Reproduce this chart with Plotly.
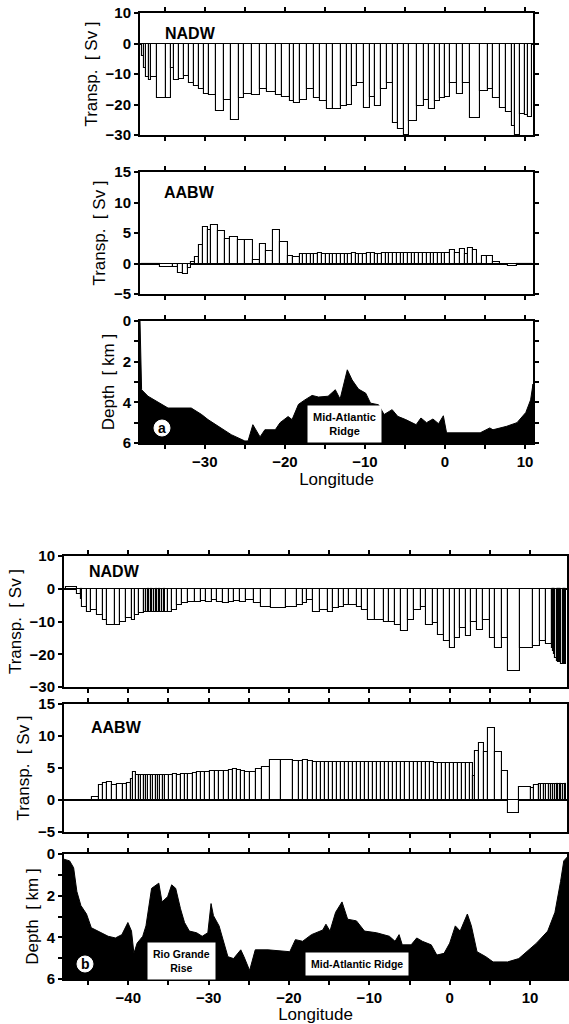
import numpy as np
import plotly.graph_objects as go

W, H = 569, 1024

# ---------------- Panel (a) data ----------------
NADW_A_EDGES = [-37.9, -37.6, -37.3, -37.0, -36.75, -35.95, -34.85, -34.25, -33.85, -33.25,
                -32.55, -31.95, -31.35, -30.75, -30.05, -29.45, -28.65, -27.65, -26.75, -25.75,
                -25.15, -24.05, -23.05, -22.25, -21.15, -20.35, -19.35, -18.85, -18.05, -17.25,
                -16.35, -15.55, -14.75, -13.95, -13.05, -12.25, -11.65, -10.95, -10.15, -9.35,
                -8.75, -8.05, -7.25, -6.45, -5.85, -5.15, -4.55, -3.55, -2.65, -2.05,
                -1.25, -0.65, 0.05, 0.65, 1.45, 2.25, 3.15, 4.35, 5.35, 6.05,
                6.85, 7.65, 8.35, 8.75, 9.35, 9.95, 10.35, 10.9]
NADW_A_VALUES = [-4, -8, -11, -12, -11, -18, -18, -8, -12, -11.5,
                 -10.5, -13, -14, -15, -16.5, -17, -22, -18.5, -25, -18,
                 -16.5, -17, -15, -16, -17, -17.5, -19, -19.5, -18.5, -15,
                 -18, -19, -21.5, -21.5, -20.5, -20, -14, -13, -21, -17.5,
                 -20.5, -15, -13, -26, -28, -30, -25.5, -20.5, -18.5, -21.5,
                 -19, -18, -17.5, -13, -16.5, -13, -24.5, -15.5, -15, -18,
                 -21, -22.5, -27, -30, -23, -23.5, -24]

AABW_A_EDGES = [-37.9, -35.6, -34.0, -33.3, -32.7, -32.1, -31.7, -31.25, -30.7, -30.2,
                -29.6, -29.2, -28.3, -27.5, -26.9, -25.8, -25.0, -24.0, -23.1, -22.3,
                -21.5, -20.6, -19.6, -19.0, -18.1,
                -17.7, -17.2, -16.75, -16.3, -15.8, -15.35, -14.9, -14.4, -13.95, -13.5,
                -13.0, -12.55, -12.1, -11.6, -11.15, -10.7, -10.2, -9.75, -9.3, -8.8,
                -8.35, -7.9, -7.4, -6.95, -6.5, -6.0, -5.55, -5.1, -4.6, -4.15,
                -3.7, -3.2, -2.75, -2.3, -1.8, -1.35, -0.9, -0.4, 0.05,
                0.6, 1.25, 1.9, 2.5, 2.9, 3.5, 4.0, 4.6, 5.3, 6.0, 6.9, 7.9, 9.0, 10.9]
AABW_A_VALUES = [-0.2, -0.5, -0.5, -1.5, -1.8, -0.8, 0.2, 1.0, 3.0, 6.0,
                 5.5, 6.3, 5.3, 4.0, 4.3, 3.8, 3.8, 0.5, 3.2, 2.0,
                 5.5, 3.5, 1.2, 1.0, 1.5,
                 1.6, 1.6, 1.6, 1.6, 1.7, 1.6, 1.5, 1.6, 1.6, 1.6,
                 1.6, 1.6, 1.6, 1.7, 1.6, 1.6, 1.6, 1.7, 1.7, 1.6,
                 1.6, 1.7, 1.7, 1.7, 1.7, 1.7, 1.8, 1.7, 1.7, 1.8,
                 1.8, 1.8, 1.8, 1.8, 1.8, 1.8, 1.8, 1.8, 1.8,
                 2.2, 1.8, 2.4, 1.5, 2.6, 2.2, -0.2, 1.2, 1.2, 0.3, 0.0, -0.4, -0.2]

DEPTH_A_LON = [-38.1, -37.9, -37.1, -35.8, -34.6, -31.7, -30.4, -29.6, -28.3, -26.7,
               -25.0, -24.6, -24.0, -23.1, -22.5, -21.2, -20.6, -19.6, -19.1, -18.3,
               -17.5, -16.6, -15.8, -14.6, -13.7, -13.1, -12.2, -11.6, -10.8, -9.9,
               -9.3, -8.3, -7.6, -6.6, -5.9, -4.9, -3.6, -3.0, -2.3, -1.5,
               -0.8, -0.2, 0.2, 4.4, 5.6, 6.0, 7.7, 9.0, 10.1, 10.7, 11.0]
DEPTH_A_KM = [0.0, 3.38, 3.7, 4.0, 4.28, 4.28, 4.6, 4.85, 5.18, 5.59,
              5.9, 5.9, 5.1, 5.7, 5.35, 5.35, 5.0, 4.7, 4.85, 4.1,
              3.88, 3.66, 3.74, 3.7, 3.38, 3.84, 2.4, 2.9, 3.35, 3.55,
              4.04, 4.12, 4.6, 4.36, 4.69, 4.85, 5.1, 4.77, 5.0, 4.82,
              5.05, 4.66, 5.5, 5.5, 5.26, 5.35, 5.18, 5.0, 4.5, 3.88, 3.1]

# ---------------- Panel (b) data ----------------
NADW_B_EDGES = [-47.7, -46.4, -45.9, -45.7, -45.2, -44.6, -43.9, -43.2, -42.6, -41.6,
                -41.0, -40.3, -39.6, -39.2, -38.7,
                -38.0, -37.8, -37.6, -37.4, -37.2, -37.0, -36.8, -36.6, -36.4, -36.2,
                -36.0, -35.8, -35.6, -35.4,
                -35.1, -34.6, -33.9, -33.3, -32.6,
                -31.7, -31.0, -30.3, -29.6, -28.9, -28.2, -27.5, -26.8, -26.1, -25.4,
                -24.4, -23.5, -22.2, -20.4, -19.0, -18.3, -17.7, -17.0, -16.1, -15.2,
                -14.5, -13.8, -13.1, -12.5, -11.5, -10.9, -10.2, -9.3, -8.2, -7.5,
                -6.8, -6.1, -5.2, -4.5, -3.6, -3.0, -2.1, -1.4, -0.7, 0.0,
                0.7, 1.3, 2.0, 2.7, 3.4, 4.1, 5.0, 5.6, 6.5, 7.2,
                8.8, 10.4, 11.3, 12.0,
                12.7, 12.85, 13.0, 13.15, 13.3, 13.45, 13.6, 13.75, 13.9, 14.05,
                14.2, 14.35, 14.5]
NADW_B_VALUES = [0.4, -1.6, -3, -5.5, -7, -6.5, -8, -9.5, -11, -11,
                 -10, -9, -9.5, -8, -7.5,
                 -7.2, -7, -7, -7, -7, -7, -7, -7, -7, -7,
                 -7, -7, -7, -7,
                 -7, -6.5, -5, -4.5, -4,
                 -4, -3.8, -4, -3.5, -4, -4.2, -4, -3.8, -4, -3.5,
                 -4.5, -5.5, -6, -5.5, -5, -4.5, -3.5, -7, -6.5, -7,
                 -6, -5.5, -5, -5, -5.5, -6.5, -9.5, -9.5, -10, -10,
                 -11, -13, -9.5, -6.5, -5.5, -11, -10.5, -14, -16, -18,
                 -15, -12, -14.5, -10, -12.5, -9.5, -15, -18, -15, -25,
                 -18, -17.5, -16, -17,
                 -18, -19, -20, -21, -22, -22.5, -22.5, -22.5, -23, -23,
                 -23, -23]

AABW_B_EDGES = [-44.5, -43.7, -43.2, -42.6, -42.0, -41.4, -40.7, -40.1, -39.7, -39.4,
                -39.0, -38.7, -38.4, -38.1, -37.8, -37.5, -37.2, -36.9, -36.6, -36.3,
                -36.0, -35.7, -35.4,
                -34.9, -34.4, -33.9, -33.4, -33.0,
                -32.6, -32.0,
                -31.4, -30.9, -30.4, -29.8, -29.2,
                -28.7, -28.1, -27.5,
                -27.0, -26.5,
                -26.0, -25.5,
                -24.9, -24.1, -23.3, -22.4, -21.0,
                -19.5, -18.8, -18.2, -17.6,
                -17.0, -16.5, -16.0, -15.5, -15.0, -14.5, -14.0, -13.5, -13.0, -12.5,
                -12.0, -11.5, -11.0, -10.5, -10.0, -9.5, -9.0, -8.5, -8.0, -7.5,
                -7.0, -6.5, -6.0, -5.5, -5.0, -4.5, -4.0, -3.5, -3.0, -2.5,
                -2.0, -1.5, -1.0, -0.5, 0.0, 0.5, 1.0, 1.5, 2.0, 2.5,
                2.9, 3.2, 3.7, 4.3, 4.8, 5.6, 6.5, 7.3, 8.6, 10.1, 10.5,
                11.1, 11.4, 11.7, 12.0, 12.3, 12.6, 12.9, 13.1, 13.3, 13.5,
                13.7, 13.9, 14.1, 14.3, 14.5]
AABW_B_VALUES = [0.5, 2.3, 2.6, 2.8, 2.4, 2.5, 2.5, 2.6, 3.3, 4.3,
                 3.9, 3.9, 3.9, 3.9, 3.9, 3.9, 3.9, 3.9, 3.9, 3.9,
                 3.9, 3.9, 3.9,
                 3.9, 4.0, 3.9, 4.0, 4.1,
                 4.0, 4.2,
                 4.4, 4.4, 4.3, 4.5, 4.5,
                 4.6, 4.6, 4.7,
                 4.8, 4.7,
                 4.5, 4.4,
                 4.3, 4.9, 5.2, 6.3, 6.2,
                 6.1, 6.1, 6.2, 6.1,
                 6.0, 5.9, 5.9, 5.9, 5.9, 5.9, 5.9, 5.9, 5.9, 5.9,
                 5.9, 5.9, 5.9, 5.9, 5.9, 5.9, 5.9, 5.9, 5.9, 5.9,
                 5.9, 5.9, 5.9, 5.9, 5.9, 5.9, 5.9, 5.9, 5.9, 5.9,
                 5.8, 5.8, 5.8, 5.8, 5.8, 5.8, 5.8, 5.8, 5.8, 5.8,
                 3.7, 7.6, 8.9, 7.5, 11.2, 7.5, 4.5, -2.0, 2.0, 1.8, 2.4,
                 2.5, 2.5, 2.5, 2.5, 2.5, 2.5, 2.5, 2.5, 2.5, 2.5,
                 2.5, 2.5, 2.5, 2.5]

DEPTH_B_LON = [-48.0, -47.3, -46.8, -46.4, -45.9, -45.2, -44.6, -43.4, -42.5, -41.6,
               -40.8, -40.05, -39.6, -39.3, -38.9, -38.2, -37.8, -37.1, -36.2, -35.8,
               -35.1, -34.6, -34.1, -33.5, -33.0, -32.4, -31.5, -30.8, -30.1, -29.7,
               -29.4, -28.7, -28.1, -27.6, -26.9, -26.0, -25.6, -24.9, -24.2, -22.6,
               -19.9, -19.2, -18.3, -17.2, -15.8, -15.4, -14.9, -14.2, -13.4, -12.7,
               -11.6, -10.6, -9.1, -7.5, -6.8, -6.3, -5.9, -4.8, -4.1, -3.4,
               -2.3, -1.6, -0.7, 0.0, 0.7, 1.3, 2.2, 2.7, 3.4, 4.5,
               5.4, 7.2, 8.6, 10.8, 12.2, 13.1, 13.8, 14.2, 14.6]
DEPTH_B_KM = [0.25, 0.33, 0.66, 1.8, 2.47, 2.88, 3.54, 3.78, 3.95, 4.03,
              3.87, 3.29, 3.7, 4.77, 4.28, 3.95, 3.45, 1.65, 1.4, 2.3,
              2.05, 1.48, 1.65, 2.63, 3.29, 3.7, 3.78, 3.95, 3.78, 2.38,
              2.96, 3.45, 4.28, 4.93, 5.02, 4.6, 4.93, 5.59, 4.6, 4.6,
              4.69, 4.11, 4.19, 3.87, 3.65, 3.37, 3.7, 2.8, 2.3, 3.13,
              3.21, 3.7, 3.78, 3.95, 4.19, 3.87, 4.36, 4.36, 4.03, 4.19,
              4.36, 4.85, 4.77, 4.28, 3.45, 3.7, 2.88, 3.45, 4.69, 4.93,
              5.18, 5.18, 5.02, 4.28, 3.7, 2.8, 1.32, 0.33, 0.16]

X_RANGE_A = [-38.1, 11.0]
X_RANGE_B = [-48.0, 14.6]
DEPTH_MAX = 6

FONT = "Arial, Liberation Sans, sans-serif"

fig = go.Figure()


def add_bars(edges, values, n_axis):
    e = np.asarray(edges, float)
    n = min(len(values), len(e) - 1)
    left, right = e[:n], e[1:n + 1]
    fig.add_trace(go.Bar(
        x=(left + right) / 2, y=np.asarray(values[:n], float), width=right - left,
        xaxis="x" + n_axis, yaxis="y" + n_axis,
        marker=dict(color="white", line=dict(color="black", width=1.1)),
        showlegend=False, hoverinfo="skip"))


def add_depth(lon, km, n_axis):
    n = min(len(lon), len(km))
    xs = list(lon[:n]) + [lon[n - 1], lon[0]]
    ys = list(km[:n]) + [DEPTH_MAX, DEPTH_MAX]
    fig.add_trace(go.Scatter(
        x=xs, y=ys, mode="lines", fill="toself", fillcolor="black",
        line=dict(color="black", width=1),
        xaxis="x" + n_axis, yaxis="y" + n_axis, showlegend=False, hoverinfo="skip"))


add_bars(NADW_A_EDGES, NADW_A_VALUES, "")
add_bars(AABW_A_EDGES, AABW_A_VALUES, "2")
add_depth(DEPTH_A_LON, DEPTH_A_KM, "3")
add_bars(NADW_B_EDGES, NADW_B_VALUES, "4")
add_bars(AABW_B_EDGES, AABW_B_VALUES, "5")
add_depth(DEPTH_B_LON, DEPTH_B_KM, "6")


def xd(l, r):
    return [l / W, r / W]


def yd(t, b):
    return [1 - b / H, 1 - t / H]


XA = xd(140, 533)
XB = xd(64, 567)
YDOM = [yd(13, 135), yd(172, 294), yd(321, 443), yd(556, 687), yd(704, 832), yd(854, 979)]

tick_font = dict(family=FONT, size=15, color="black", weight="bold")
common = dict(showline=True, linecolor="black", linewidth=2, mirror="ticks",
              ticks="outside", ticklen=4, tickwidth=1.5, tickcolor="black",
              showgrid=False, zeroline=False, automargin=False, tickfont=tick_font)

nbsp = "\u00a0"
ttl_transp = f"Transp.{nbsp}{nbsp}[{nbsp}Sv{nbsp}]"
ttl_depth = f"Depth{nbsp}{nbsp}[{nbsp}km{nbsp}]"
title_font = dict(family=FONT, size=17, color="black")

layout = dict(width=W, height=H, margin=dict(l=0, r=0, t=0, b=0),
              paper_bgcolor="white", plot_bgcolor="white", showlegend=False,
              bargap=0, font=dict(family=FONT, color="black"))

for i in range(6):
    key = "" if i == 0 else str(i + 1)
    grp_a = i < 3
    xr = X_RANGE_A if grp_a else X_RANGE_B
    bottom = i in (2, 5)
    xax = dict(common, domain=XA if grp_a else XB, range=xr, anchor="y" + key,
               dtick=10, tick0=0, showticklabels=bottom,
               minor=dict(dtick=5, tick0=0, ticks="outside", ticklen=4, tickwidth=1.5,
                          tickcolor="black", showgrid=False))
    if bottom:
        xax["title"] = dict(text="Longitude", font=title_font, standoff=3)
    layout["xaxis" + key] = xax

    kind = i % 3
    if kind == 0:
        yax = dict(common, range=[-30, 10], dtick=10, zeroline=True,
                   zerolinecolor="black", zerolinewidth=2,
                   title=dict(text=ttl_transp, font=title_font, standoff=4))
    elif kind == 1:
        yax = dict(common, range=[-5, 15], dtick=5, zeroline=True,
                   zerolinecolor="black", zerolinewidth=2,
                   title=dict(text=ttl_transp, font=title_font, standoff=4))
    else:
        yax = dict(common, range=[DEPTH_MAX, 0], dtick=2,
                   minor=dict(dtick=1, ticks="outside", ticklen=4, tickwidth=1.5,
                              tickcolor="black", showgrid=False),
                   title=dict(text=ttl_depth, font=title_font, standoff=4))
    yax.update(domain=YDOM[i], anchor="x" + key)
    layout["yaxis" + key] = yax

fig.update_layout(**layout)


def P(x, y):
    return x / W, 1 - y / H


ann = []
for text, (px, py) in [("NADW", (163, 33)), ("AABW", (162, 192)),
                       ("NADW", (87, 571)), ("AABW", (89, 727))]:
    ax_, ay_ = P(px, py)
    ann.append(dict(text=text, x=ax_, y=ay_, xref="paper", yref="paper",
                    xanchor="left", yanchor="middle", showarrow=False,
                    font=dict(family=FONT, size=16, color="black", weight="bold")))

for text, (px, py), fs in [("Mid-Atlantic<br>Ridge", (344, 424), 11),
                           ("Rio Grande<br>Rise", (181, 961), 10.5),
                           ("Mid-Atlantic Ridge", (357, 964), 10.5)]:
    ax_, ay_ = P(px, py)
    ann.append(dict(text=text, x=ax_, y=ay_, xref="paper", yref="paper",
                    xanchor="center", yanchor="middle", showarrow=False,
                    bgcolor="white", borderpad=5,
                    font=dict(family=FONT, size=fs, color="black", weight="bold")))

shapes = []
for letter, (px, py) in [("a", (162, 428)), ("b", (85, 964))]:
    r = 8
    x0, y1 = P(px - r, py - r)
    x1, y0 = P(px + r, py + r)
    shapes.append(dict(type="circle", xref="paper", yref="paper", x0=x0, x1=x1,
                       y0=y0, y1=y1, fillcolor="white", line=dict(color="white", width=1),
                       layer="above"))
    cx, cy = P(px, py)
    ann.append(dict(text=letter, x=cx, y=cy, xref="paper", yref="paper",
                    xanchor="center", yanchor="middle", showarrow=False,
                    font=dict(family=FONT, size=14, color="black", weight="bold")))

fig.update_layout(annotations=ann, shapes=shapes)
fig.write_html("out.html", config={"displayModeBar": False},
               post_script="document.body.style.margin='0px';document.body.style.overflow='hidden';")
